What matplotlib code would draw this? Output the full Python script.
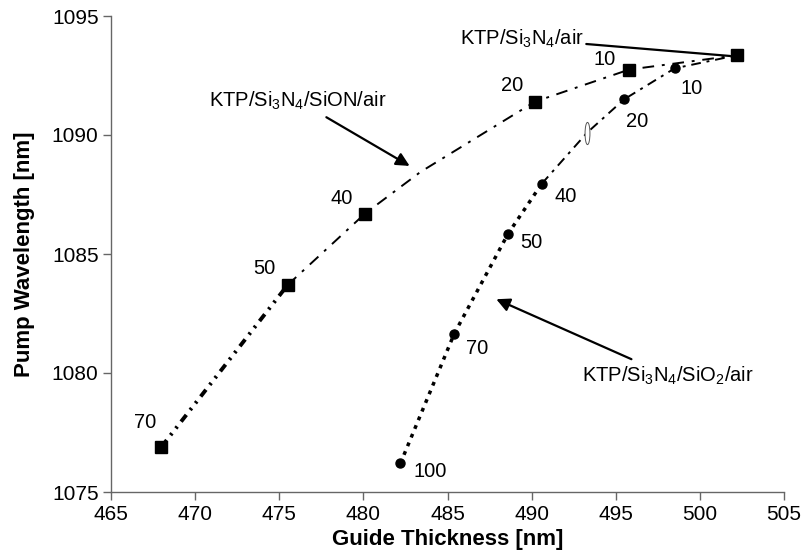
import matplotlib
matplotlib.use("Agg")
import matplotlib.pyplot as plt
import numpy as np
from matplotlib.path import Path
from matplotlib.transforms import Affine2D

plt.rcParams['font.family'] = ['Liberation Sans', 'DejaVu Sans']
plt.rcParams['mathtext.fontset'] = 'custom'
plt.rcParams['mathtext.rm'] = 'Liberation Sans'
plt.rcParams['mathtext.it'] = 'Liberation Sans'

# KTP/Si3N4/SiON/air branch (labels = SiON thickness)
sion_x = [468.0, 475.5, 480.1, 483.4, 490.2, 495.8, 502.2]
sion_y = [1076.9, 1083.7, 1086.7, 1088.45, 1091.4, 1092.75, 1093.35]
sion_lab = ['70', '50', '40', '', '20', '10', '']

# KTP/Si3N4/SiO2/air branch (labels = SiO2 thickness)
sio2_x = [482.2, 485.4, 488.6, 490.6, 493.3, 495.5, 498.5, 502.2]
sio2_y = [1076.2, 1081.65, 1085.85, 1087.95, 1090.1, 1091.5, 1092.8, 1093.35]
sio2_lab = ['100', '70', '50', '40', '', '20', '10', '']

# label offsets in pixels
sion_off = [(-16, 24), (-23, 16), (-23, 15), None, (-23, 16), (-25, 10), None]
sio2_off = [(30, -8), (23, -15), (23, -9), (24, -13), None, (13, -22), (17, -20), None]

fig = plt.figure(figsize=(8.05, 5.53), dpi=100)
ax = fig.add_axes([111 / 805, 1 - 492 / 553, (784 - 111) / 805, (492 - 16) / 553])

k = 'black'
# SiON: heavy dash-dot-dot at the bottom, thin at the top
ax.plot(sion_x[:2], sion_y[:2], color=k, lw=2.8, dashes=(2.2, 1.6, 0.6, 1.6, 0.6, 1.6))
ax.plot(sion_x[1:], sion_y[1:], color=k, lw=1.4, dashes=(6, 4, 1.5, 4))
ax.plot([x for x, l in zip(sion_x, sion_lab) if l] + [sion_x[-1]],
        [y for y, l in zip(sion_y, sion_lab) if l] + [sion_y[-1]],
        ls='none', marker='s', ms=8.5, color=k)

# SiO2: heavy dotted at the bottom, thin dashed at the top
ax.plot(sio2_x[:4], sio2_y[:4], color=k, lw=2.5, dashes=(1.1, 1.6))
ax.plot(sio2_x[3:], sio2_y[3:], color=k, lw=1.4, dashes=(5, 3, 1.5, 3))
ax.plot([x for x, l in zip(sio2_x, sio2_lab) if l],
        [y for y, l in zip(sio2_y, sio2_lab) if l],
        ls='none', marker='o', ms=6.5, color=k)

# odd hollow ellipse marker on the SiO2 curve
ell = Path.unit_circle().transformed(Affine2D().scale(0.22, 1.0))
ax.plot(sio2_x[4], sio2_y[4], ls='none', marker=ell, ms=16,
        mfc='white', mec='#555555', mew=0.7)

for xs, ys, labs, offs in [(sion_x, sion_y, sion_lab, sion_off),
                           (sio2_x, sio2_y, sio2_lab, sio2_off)]:
    for x, y, l, o in zip(xs, ys, labs, offs):
        if l:
            ax.annotate(l, (x, y), xytext=(o[0] * 0.72, o[1] * 0.72),
                        textcoords='offset points', ha='center', va='center',
                        fontsize=14.5)

fs = 14.5
ax.annotate('KTP/Si$_3$N$_4$/SiON/air', xy=(482.75, 1088.7), xytext=(476.1, 1091.45),
            ha='center', va='center', fontsize=fs,
            arrowprops=dict(arrowstyle='-|>', color=k, lw=1.6, mutation_scale=20,
                            shrinkA=4, shrinkB=0))
ax.annotate('KTP/Si$_3$N$_4$/air', xy=(501.8, 1093.32), xytext=(489.4, 1094.05),
            ha='center', va='center', fontsize=fs,
            arrowprops=dict(arrowstyle='-', color=k, lw=1.6, shrinkA=0, shrinkB=0))
ax.annotate('KTP/Si$_3$N$_4$/SiO$_2$/air', xy=(487.9, 1083.1), xytext=(498.1, 1079.9),
            ha='center', va='center', fontsize=fs,
            arrowprops=dict(arrowstyle='-|>', color=k, lw=1.6, mutation_scale=20,
                            shrinkA=4, shrinkB=0))

ax.set_xlim(465, 505)
ax.set_ylim(1075, 1095)
ax.set_xticks(np.arange(465, 506, 5))
ax.set_yticks(np.arange(1075, 1096, 5))
for s in ['top', 'right']:
    ax.spines[s].set_visible(False)
for s in ['left', 'bottom']:
    ax.spines[s].set_color('#666666')
    ax.spines[s].set_linewidth(1.0)
ax.tick_params(direction='out', length=6, width=1.0, color='#666666',
               labelsize=15, pad=3)

ax.set_xlabel('Guide Thickness [nm]', fontsize=16, fontweight='bold', labelpad=4)
ax.set_ylabel('Pump Wavelength [nm]', fontsize=16, fontweight='bold', labelpad=12)

fig.savefig('out.png', dpi=100)
